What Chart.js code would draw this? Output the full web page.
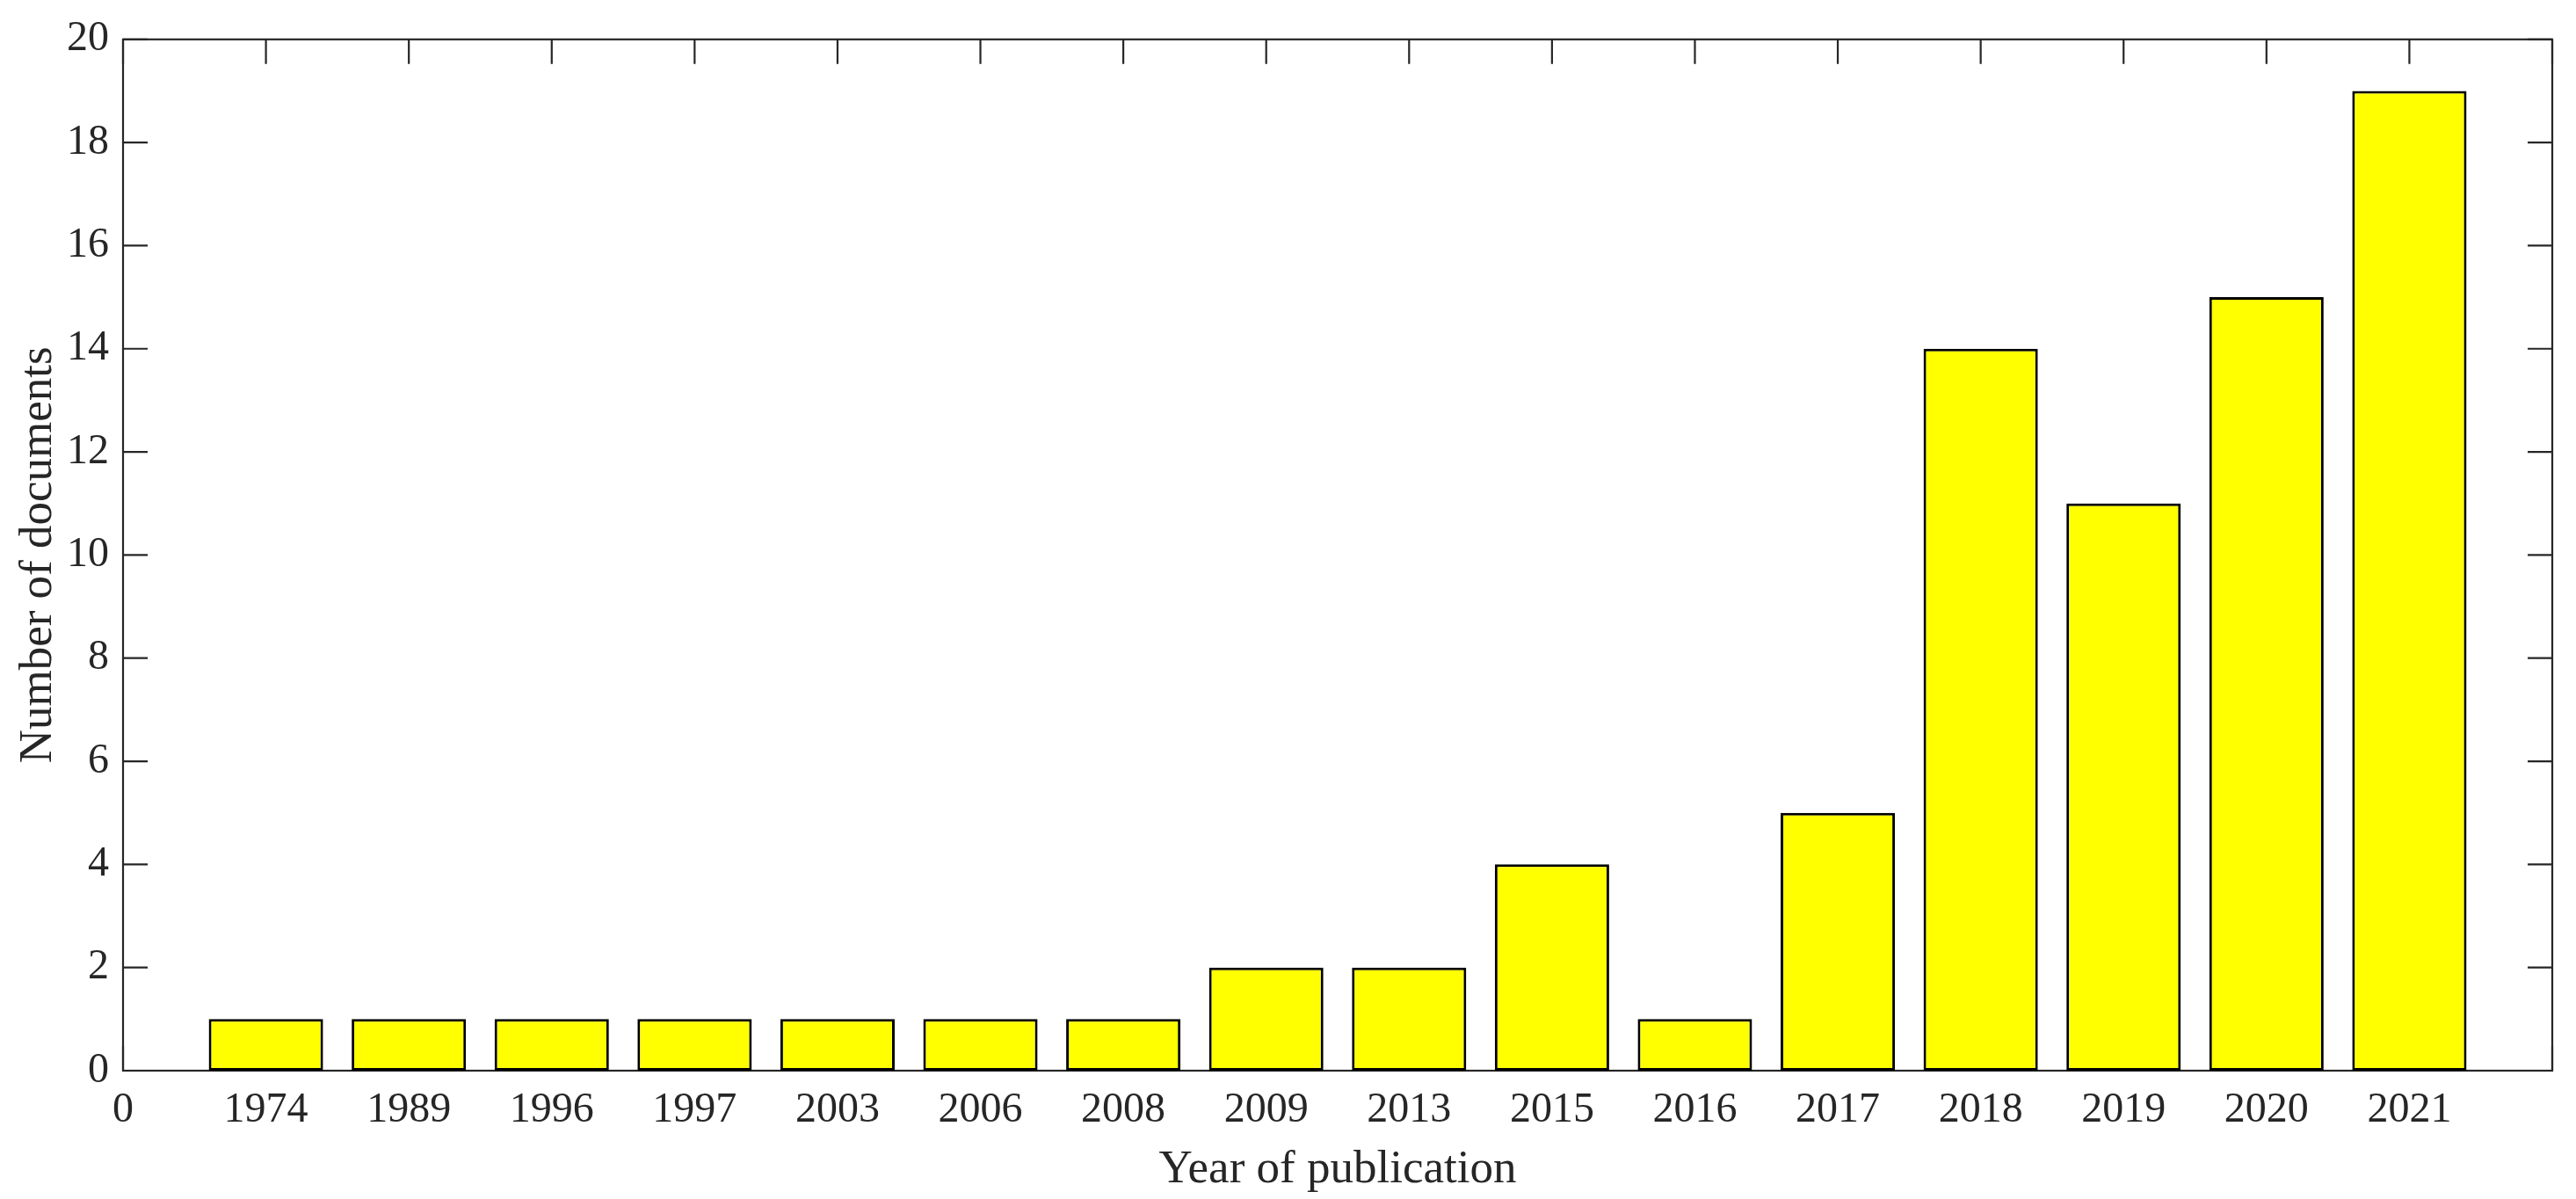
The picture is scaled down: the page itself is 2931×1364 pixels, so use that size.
<!DOCTYPE html>
<html>
<head>
<meta charset="utf-8">
<script src="https://cdn.jsdelivr.net/npm/chart.js@4/dist/chart.umd.min.js"></script>
<style>
    html, body { margin: 0; padding: 0; background: #fff; }
    #wrap { width: 2931px; height: 1364px; position: relative; }
</style>
</head>
<body>
<div id="wrap"><canvas id="grafico"></canvas></div>
<script>
// data
const years = ['1974', '1989', '1996', '1997', '2003', '2006', '2008', '2009',
               '2013', '2015', '2016', '2017', '2018', '2019', '2020', '2021'];
const documents = [1, 1, 1, 1, 1, 1, 1, 2, 2, 4, 1, 5, 14, 11, 15, 19];
const yTicks = [0, 2, 4, 6, 8, 10, 12, 14, 16, 18, 20];

const axisColor = '#262626';
const TICK = 28;

// MATLAB style box with inward ticks on all four sides
const frame = {
    id: 'frame',
    beforeDatasetsDraw(chart) {
        const { ctx, chartArea: a, scales: { x, y } } = chart;
        ctx.save();
        ctx.strokeStyle = axisColor;
        ctx.lineWidth = 2.2;
        ctx.beginPath();
        x.ticks.forEach(t => {
            const px = x.getPixelForValue(t.value);
            ctx.moveTo(px, a.bottom); ctx.lineTo(px, a.bottom - TICK);
            ctx.moveTo(px, a.top); ctx.lineTo(px, a.top + TICK);
        });
        y.ticks.forEach(t => {
            const py = y.getPixelForValue(t.value);
            ctx.moveTo(a.left, py); ctx.lineTo(a.left + TICK, py);
            ctx.moveTo(a.right, py); ctx.lineTo(a.right - TICK, py);
        });
        ctx.stroke();
        ctx.strokeRect(a.left, a.top, a.right - a.left, a.bottom - a.top);
        ctx.restore();
    }
};

const ctx = document.getElementById('grafico').getContext('2d');

const data = {
    datasets: [{
        label: 'Number of documents',
        data: documents.map((v, i) => ({ x: i + 1, y: v })),
        backgroundColor: '#ffff00',
        borderColor: '#000000',
        borderWidth: 3,
        borderSkipped: false,
        categoryPercentage: 1.0,
        barPercentage: 0.8
    }]
};

const config = {
    type: 'bar',
    data: data,
    options: {
        responsive: true,
        maintainAspectRatio: false,
        animation: false,
        layout: { padding: { top: 42, right: 27, left: 0, bottom: 0 } },
        plugins: {
            legend: { display: false },
            tooltip: { enabled: false }
        },
        scales: {
            x: {
                type: 'linear',
                min: 0,
                max: years.length + 1,
                offset: false,
                grid: { display: false, drawTicks: false },
                border: { display: false },
                afterFit: s => { s.height = 146; },
                ticks: {
                    stepSize: 1,
                    autoSkip: false,
                    maxRotation: 0,
                    padding: 17,
                    color: axisColor,
                    font: { family: 'Liberation Serif', size: 48 },
                    callback: v => v === 0 ? '0' : (years[v - 1] || '')
                },
                title: {
                    display: true,
                    text: 'Year of publication',
                    color: axisColor,
                    font: { family: 'Liberation Serif', size: 53 },
                    padding: { top: 0, bottom: 1 }
                }
            },
            y: {
                min: yTicks[0],
                max: yTicks[yTicks.length - 1],
                grid: { display: false, drawTicks: false },
                border: { display: false },
                afterFit: s => { s.width = 140; },
                afterBuildTicks: s => { s.ticks = yTicks.map(v => ({ value: v })); },
                ticks: {
                    padding: 16,
                    color: axisColor,
                    font: { family: 'Liberation Serif', size: 48 }
                },
                title: {
                    display: true,
                    text: 'Number of documents',
                    color: axisColor,
                    font: { family: 'Liberation Serif', size: 53 },
                    padding: { top: 12, bottom: 0 }
                }
            }
        }
    },
    plugins: [frame]
};

new Chart(ctx, config);
</script>
</body>
</html>
